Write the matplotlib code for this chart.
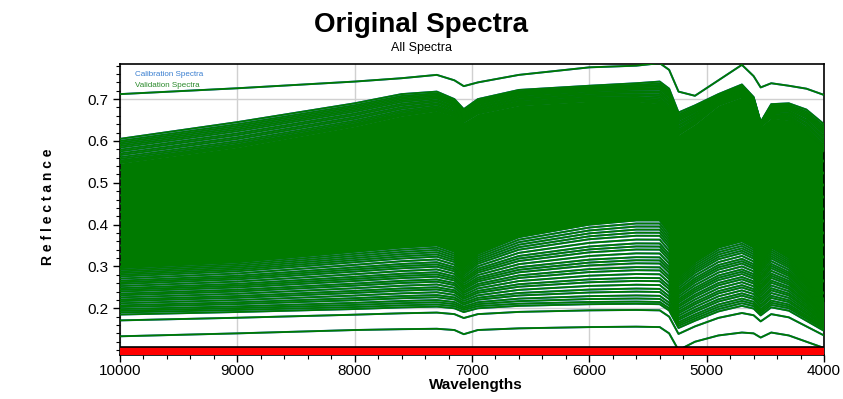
import matplotlib
matplotlib.use("Agg")
import matplotlib.pyplot as plt
import numpy as np
from matplotlib.ticker import MultipleLocator

plt.rcParams['font.family'] = ['Liberation Sans', 'DejaVu Sans']

# wavenumber key points (descending)
wavenumbers = [10000, 9000, 8000, 7600, 7300, 7150, 7070, 6950, 6600, 6000, 5600, 5400,
               5320, 5240, 5100, 4900, 4700, 4600, 4540, 4450, 4300, 4150, 4000]

# representative spectra (reflectance at each key point)
spec_outlier_high = [0.712, 0.726, 0.742, 0.750, 0.758, 0.745, 0.731, 0.740, 0.758, 0.776, 0.780, 0.786,
                     0.770, 0.718, 0.708, 0.745, 0.782, 0.755, 0.728, 0.738, 0.732, 0.725, 0.710]
spec_top = [0.605, 0.645, 0.690, 0.712, 0.718, 0.700, 0.676, 0.700, 0.722, 0.732, 0.738, 0.742,
            0.725, 0.668, 0.685, 0.712, 0.735, 0.705, 0.645, 0.688, 0.690, 0.675, 0.640]
spec_dense_top = [0.547, 0.585, 0.635, 0.660, 0.672, 0.660, 0.645, 0.665, 0.685, 0.695, 0.695, 0.690,
                  0.670, 0.615, 0.640, 0.685, 0.705, 0.680, 0.635, 0.655, 0.650, 0.620, 0.575]
spec_dense_bottom = [0.296, 0.310, 0.335, 0.345, 0.350, 0.335, 0.300, 0.330, 0.370, 0.400, 0.410, 0.410,
                     0.380, 0.275, 0.310, 0.345, 0.360, 0.345, 0.310, 0.345, 0.320, 0.270, 0.215]
spec_low = [0.190, 0.196, 0.203, 0.207, 0.209, 0.205, 0.196, 0.205, 0.211, 0.215, 0.216, 0.215,
            0.200, 0.158, 0.175, 0.198, 0.212, 0.205, 0.188, 0.208, 0.200, 0.175, 0.150]
spec_outlier_low = [0.133, 0.140, 0.148, 0.150, 0.151, 0.148, 0.138, 0.148, 0.152, 0.155, 0.156, 0.155,
                    0.140, 0.100, 0.120, 0.135, 0.142, 0.140, 0.130, 0.142, 0.135, 0.120, 0.105]

# starting reflectance (at 10000) of the individual spectra
start_levels = [0.605, 0.600, 0.596, 0.592, 0.588, 0.584, 0.579, 0.575, 0.570, 0.566, 0.561, 0.557,
                0.553, 0.550, 0.547, 0.530, 0.510, 0.490, 0.470, 0.450, 0.430, 0.410, 0.390,
                0.370, 0.350, 0.330, 0.310, 0.300, 0.296, 0.292, 0.288, 0.284, 0.280, 0.276,
                0.271, 0.266, 0.262, 0.258, 0.253, 0.248, 0.244, 0.240, 0.235, 0.231, 0.226,
                0.221, 0.217, 0.212, 0.207, 0.203, 0.198, 0.194, 0.190, 0.185, 0.171, 0.133]

anchor_levels = [0.133, 0.190, 0.296, 0.547, 0.605]
anchor_specs = [spec_outlier_low, spec_low, spec_dense_bottom, spec_dense_top, spec_top]

W = np.array(wavenumbers)
anchors = [np.array(s) for s in anchor_specs]


def spectrum_for(level):
    for i in range(len(anchor_levels) - 1):
        a, b = anchor_levels[i], anchor_levels[i + 1]
        if a <= level <= b:
            t = (level - a) / (b - a)
            return anchors[i] + t * (anchors[i + 1] - anchors[i])
    return anchors[-1]


CAL = '#2463c4'
VAL = '#007a00'

fig = plt.figure(figsize=(8.43, 3.99), dpi=100)
ax = fig.add_axes([0.1423, 0.1103, 0.8352, 0.7293])

ax.grid(True, which='major', color='#d0d0d0', lw=1.0, zorder=0)
ax.set_axisbelow(True)

all_specs = [np.array(spec_outlier_high)] + [spectrum_for(l) for l in start_levels]
for s in all_specs:
    ax.plot(W, s, color=CAL, lw=1.4, zorder=1)
# dense band
ax.fill_between(W, spec_dense_bottom, spec_dense_top, color=VAL, lw=0, zorder=2)
for s in all_specs:
    ax.plot(W, s, color=VAL, lw=1.3, zorder=3)

ymin, ymax = 0.0883, 0.784
ax.set_xlim(10000, 4000)
ax.set_ylim(ymin, ymax)
ax.axhspan(ymin, 0.107, color='#ff0000', zorder=4, lw=0)
ax.axhline(0.107, color='black', lw=1.2, zorder=5)

ax.set_xticks([10000, 9000, 8000, 7000, 6000, 5000, 4000])
ax.xaxis.set_minor_locator(MultipleLocator(200))
ax.set_yticks([0.2, 0.3, 0.4, 0.5, 0.6, 0.7])
ax.set_yticklabels(['0.2', '0.3', '0.4', '0.5', '0.6', '0.7'])
ax.yaxis.set_minor_locator(MultipleLocator(0.02))
ax.tick_params(which='major', direction='out', length=5, width=1, labelsize=11, colors='black')
ax.tick_params(axis='x', which='major', pad=1.5)
ax.tick_params(which='minor', direction='out', length=3, width=0.8)
for sp in ax.spines.values():
    sp.set_color('black')
    sp.set_linewidth(1.2)

ax.text(0.022, 0.965, 'Calibration Spectra', transform=ax.transAxes, fontsize=5.8,
        color='#3a7fd0', va='center', ha='left', zorder=6)
ax.text(0.022, 0.925, 'Validation Spectra', transform=ax.transAxes, fontsize=5.8,
        color='#2a8a2a', va='center', ha='left', zorder=6)

fig.text(0.5, 1 - 25 / 399, 'Original Spectra', ha='center', va='center', fontsize=20, weight='bold')
fig.text(0.5, 1 - 48 / 399, 'All Spectra', ha='center', va='center', fontsize=9)
fig.text(48 / 843, 1 - 207 / 399, 'R e f l e c t a n c e', rotation=90, weight='bold', fontsize=10,
         ha='center', va='center')
fig.text(476 / 843, 1 - 385 / 399, 'Wavelengths', weight='bold', fontsize=11, ha='center', va='center')

fig.savefig('out.png', dpi=100)
